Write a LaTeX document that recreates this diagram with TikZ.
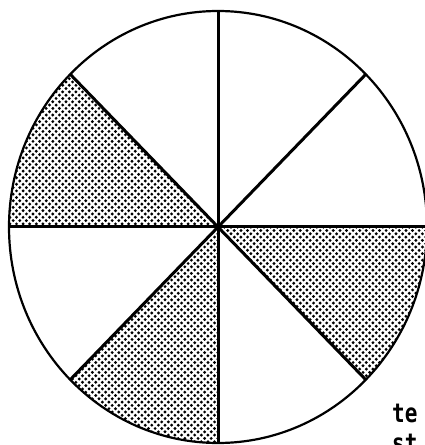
\documentclass[tikz,border=0pt]{standalone}
\usepackage{fontspec}
\usepackage{graphicx}
\newfontfamily\labelfont{DejaVu Sans Mono}

\tikzset{
  rim/.style={line width=2.2pt},
  spoke/.style={line width=3pt},
  words/.style={font=\labelfont\bfseries\fontsize{21}{24}\selectfont, anchor=base west, inner sep=0pt}
}

\begin{document}
\begin{tikzpicture}[x=1pt, y=1pt]
		\useasboundingbox (0,0) rectangle (425,445);
		\coordinate (O) at (218,218);

		% Dotted sectors (angle / grid range)
		\foreach \a/\ia/\ib/\ja/\jb in {135/1/33/65/114, 225/9/33/0/67, 315/32/65/18/67} {
			\begin{scope}
				\clip (O) -- ++(\a:209 and 216) arc[start angle=\a, end angle=\a+45, x radius=209, y radius=216] -- cycle;
				\foreach \j in {\ja,...,\jb}
					\foreach \i in {\ia,...,\ib}
						\fill ({\i*6.6+mod(\j,2)*3.3},{\j*3.3}) circle[radius=1.6];
			\end{scope}
		}

		% Circle and spokes
		\draw[rim] (O) ellipse[x radius=209, y radius=216];
		\foreach \a in {0,45,...,315}
			\draw[spoke] (O) -- ++(\a:209 and 216);

		% Cut-off words
		\node[words] (top) at (392,23) {\scalebox{1}[1.25]{te}};
		\node[words] (bottom) at (392,-7) {\scalebox{1}[1.25]{st}};
	\end{tikzpicture}
\end{document}
